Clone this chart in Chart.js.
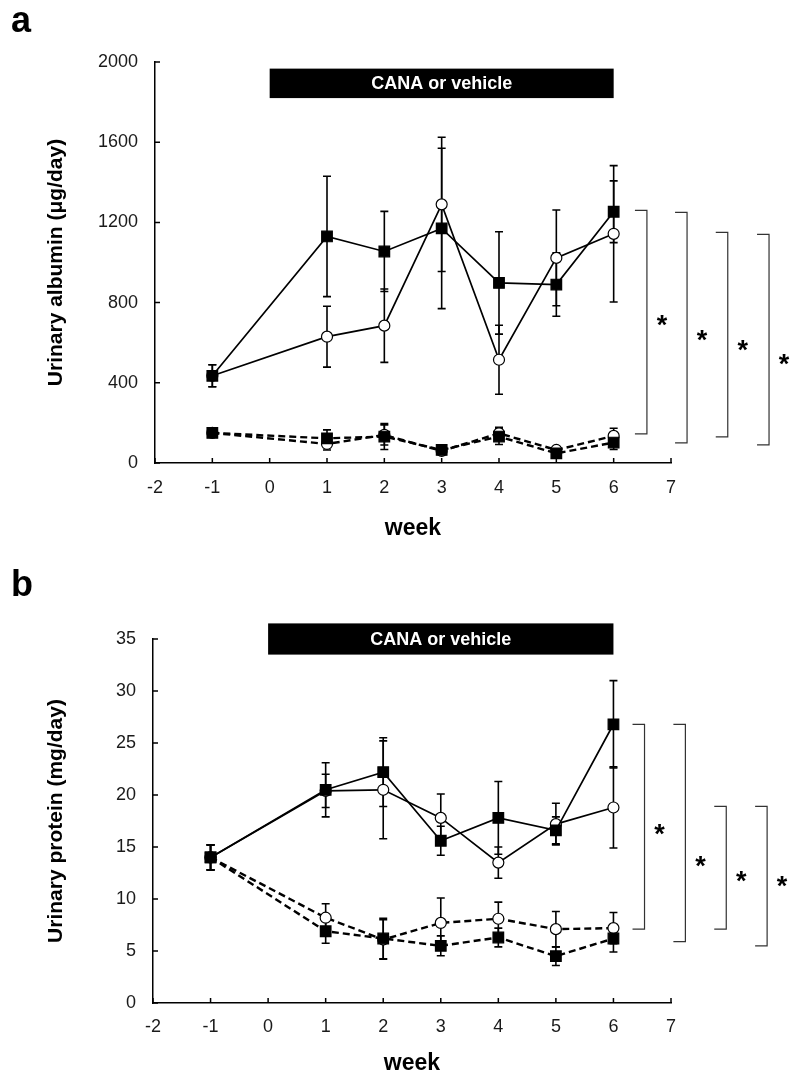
<!DOCTYPE html>
<html>
<head>
<meta charset="utf-8">
<script src="https://cdn.jsdelivr.net/npm/chart.js@4.4.0/dist/chart.umd.min.js"></script>
<style>
  body { margin: 0; background: #fff; width: 791px; height: 1077px; position: relative; overflow: hidden; }
  canvas { position: absolute; left: 0; }
  #albumin { top: 0; }
  #protein { top: 540px; }
</style>
</head>
<body>
<canvas id="albumin" width="791" height="540"></canvas>
<canvas id="protein" width="791" height="537"></canvas>
<script>
// weeks sampled
const weeks = [-1, 1, 2, 3, 4, 5, 6];

// panel a: urinary albumin (ug/day)
const albSolidSq = [435, 1130, 1055, 1170, 898, 890, 1253];
const albSolidSqErr = [55, 300, 200, 400, 255, 158, 154];
const albSolidCi = [435, 630, 685, 1290, 515, 1023, 1143];
const albSolidCiErr = [55, 152, 183, 335, 172, 239, 340];
const albDashSq = [150, 123, 132, 65, 132, 48, 102];
const albDashSqErr = [15, 42, 65, 20, 40, 20, 35];
const albDashCi = [150, 95, 140, 60, 148, 65, 135];
const albDashCiErr = [15, 30, 50, 15, 30, 15, 38];

// panel b: urinary protein (mg/day)
const proSolidSq = [14.0, 20.5, 22.2, 15.6, 17.8, 16.6, 26.8];
const proSolidSqErr = [1.2, 2.6, 3.3, 1.4, 3.5, 1.3, 4.2];
const proSolidCi = [14.0, 20.4, 20.5, 17.8, 13.5, 17.2, 18.8];
const proSolidCiErr = [1.2, 1.6, 4.7, 2.3, 1.5, 2.0, 3.9];
const proDashSq = [14.0, 6.9, 6.2, 5.5, 6.3, 4.5, 6.2];
const proDashSqErr = [1.2, 1.15, 1.95, 0.95, 0.9, 0.9, 1.3];
const proDashCi = [14.0, 8.2, 6.1, 7.7, 8.1, 7.1, 7.2];
const proDashCiErr = [1.2, 1.35, 1.9, 2.4, 1.6, 1.7, 1.5];

// treatment bar
const barLabel = 'CANA or vehicle';
const barWeeks = [0, 6];
const albBarRange = [1820, 1967];
const proBarRange = [33.5, 36.5];

// significance brackets (x in week units, y in data units)
const albBrX = [6.58, 7.28, 7.99, 8.71];
const albBrTop = [1260, 1250, 1150, 1140];
const albBrBottom = [145, 100, 130, 90];
const albStarY = [725, 650, 600, 530];
const proBrX = [6.54, 7.25, 7.96, 8.67];
const proBrTop = [26.8, 26.8, 18.9, 18.9];
const proBrBottom = [7.1, 5.9, 7.1, 5.5];
const proStarY = [16.9, 13.8, 12.4, 11.9];

const FONT = '"Liberation Sans", Arial, sans-serif';
Chart.defaults.font.family = FONT;
Chart.defaults.font.size = 18;
Chart.defaults.color = '#1a1a1a';

function series(data, filled, dashed) {
    return {
        data: weeks.map((w, i) => ({ x: w, y: data[i] })),
        borderColor: '#000',
        borderWidth: dashed ? 2.4 : 1.7,
        borderDash: dashed ? [7, 4] : [],
        pointStyle: filled ? 'rect' : 'circle',
        pointRadius: filled ? 7.5 : 5.5,
        pointBackgroundColor: filled ? '#000' : '#fff',
        pointBorderColor: '#000',
        pointBorderWidth: 1.2,
        tension: 0,
        fill: false
    };
}

const overlay = {
    id: 'overlay',
    beforeDatasetsDraw(chart, args, opts) {
        const { ctx, scales: { x, y } } = chart;
        ctx.save();
        ctx.strokeStyle = '#000';
        ctx.lineWidth = 1.6;
        opts.errors.forEach(([vals, errs]) => {
            weeks.forEach((w, i) => {
                const px = x.getPixelForValue(w);
                const top = y.getPixelForValue(vals[i] + errs[i]);
                const bot = y.getPixelForValue(vals[i] - errs[i]);
                ctx.beginPath();
                ctx.moveTo(px, top); ctx.lineTo(px, bot);
                ctx.moveTo(px - 4, top); ctx.lineTo(px + 4, top);
                ctx.moveTo(px - 4, bot); ctx.lineTo(px + 4, bot);
                ctx.stroke();
            });
        });
        ctx.restore();
    },
    afterDraw(chart, args, opts) {
        const { ctx, chartArea, scales: { x, y } } = chart;
        ctx.save();
        // inward tick marks
        ctx.strokeStyle = '#000';
        ctx.lineWidth = 1.5;
        ctx.beginPath();
        x.ticks.forEach((t) => {
            const px = x.getPixelForValue(t.value);
            ctx.moveTo(px, chartArea.bottom); ctx.lineTo(px, chartArea.bottom - 5);
        });
        y.ticks.forEach((t) => {
            const py = y.getPixelForValue(t.value);
            ctx.moveTo(chartArea.left, py); ctx.lineTo(chartArea.left + 5, py);
        });
        ctx.stroke();

        // treatment bar
        const bx0 = x.getPixelForValue(barWeeks[0]);
        const bx1 = x.getPixelForValue(barWeeks[1]);
        const by0 = y.getPixelForValue(opts.bar[1]);
        const by1 = y.getPixelForValue(opts.bar[0]);
        ctx.fillStyle = '#000';
        ctx.fillRect(bx0, by0, bx1 - bx0, by1 - by0);
        ctx.fillStyle = '#fff';
        ctx.font = 'bold 18px ' + FONT;
        ctx.textAlign = 'center';
        ctx.textBaseline = 'middle';
        ctx.fillText(barLabel, (bx0 + bx1) / 2, (by0 + by1) / 2 + 1);

        // brackets and stars
        ctx.strokeStyle = '#333';
        ctx.lineWidth = 1.2;
        ctx.fillStyle = '#000';
        ctx.font = 'bold 27px ' + FONT;
        ctx.textBaseline = 'alphabetic';
        opts.brX.forEach((bx, i) => {
            const vx = x.getPixelForValue(bx);
            const ty = y.getPixelForValue(opts.brTop[i]);
            const byy = y.getPixelForValue(opts.brBottom[i]);
            ctx.beginPath();
            ctx.moveTo(vx - 12, ty); ctx.lineTo(vx, ty);
            ctx.lineTo(vx, byy); ctx.lineTo(vx - 12, byy);
            ctx.stroke();
            ctx.fillText('*', vx + 15, y.getPixelForValue(opts.starY[i]) + 16);
        });

        // panel letter
        ctx.textAlign = 'left';
        ctx.font = 'bold 36px ' + FONT;
        ctx.fillText(opts.letter, 11, opts.letterY);
        ctx.restore();
    }
};

function makeChart(id, cfg) {
    return new Chart(document.getElementById(id), {
        type: 'line',
        data: {
            datasets: [
                series(cfg.dashSq, true, true),
                series(cfg.solidSq, true, false),
                series(cfg.dashCi, false, true),
                series(cfg.solidCi, false, false)
            ]
        },
        options: {
            responsive: false,
            animation: false,
            events: [],
            layout: { padding: { left: 40, right: 120, top: cfg.top, bottom: 0 } },
            plugins: {
                legend: { display: false },
                tooltip: { enabled: false },
                overlay: cfg.overlay
            },
            scales: {
                x: {
                    type: 'linear',
                    min: -2, max: 7,
                    grid: { display: false, drawTicks: false },
                    border: { display: true, color: '#000', width: 1.5 },
                    ticks: { stepSize: 1, padding: cfg.xPad },
                    title: { display: true, text: 'week', font: { size: 23, weight: 'bold' }, color: '#000', padding: { top: 0, bottom: cfg.titlePad } },
                    afterFit: (s) => { s.height = cfg.xHeight; }
                },
                y: {
                    min: 0, max: cfg.yMax,
                    grid: { display: false, drawTicks: false },
                    border: { display: true, color: '#000', width: 1.5 },
                    ticks: { stepSize: cfg.yStep, padding: 17, callback: (v) => String(v) },
                    title: { display: true, text: cfg.yTitle, font: { size: 21, weight: 'bold' }, color: '#000', padding: { top: 4, bottom: 0 } },
                    afterFit: (s) => { s.width = cfg.yWidth; }
                }
            }
        },
        plugins: [overlay]
    });
}

makeChart('albumin', {
    solidSq: albSolidSq, solidCi: albSolidCi, dashSq: albDashSq, dashCi: albDashCi,
    top: 62, xHeight: 77, xPad: 14, titlePad: -2, yWidth: 115,
    yMax: 2000, yStep: 400, yTitle: 'Urinary albumin (μg/day)',
    overlay: {
        errors: [[albSolidSq, albSolidSqErr], [albSolidCi, albSolidCiErr], [albDashSq, albDashSqErr], [albDashCi, albDashCiErr]],
        bar: albBarRange,
        brX: albBrX, brTop: albBrTop, brBottom: albBrBottom, starY: albStarY,
        letter: 'a', letterY: 32
    }
});

makeChart('protein', {
    solidSq: proSolidSq, solidCi: proSolidCi, dashSq: proDashSq, dashCi: proDashCi,
    top: 99, xHeight: 74, xPad: 13, titlePad: 0, yWidth: 113,
    yMax: 35, yStep: 5, yTitle: 'Urinary protein (mg/day)',
    overlay: {
        errors: [[proSolidSq, proSolidSqErr], [proSolidCi, proSolidCiErr], [proDashSq, proDashSqErr], [proDashCi, proDashCiErr]],
        bar: proBarRange,
        brX: proBrX, brTop: proBrTop, brBottom: proBrBottom, starY: proStarY,
        letter: 'b', letterY: 56
    }
});
</script>
</body>
</html>
